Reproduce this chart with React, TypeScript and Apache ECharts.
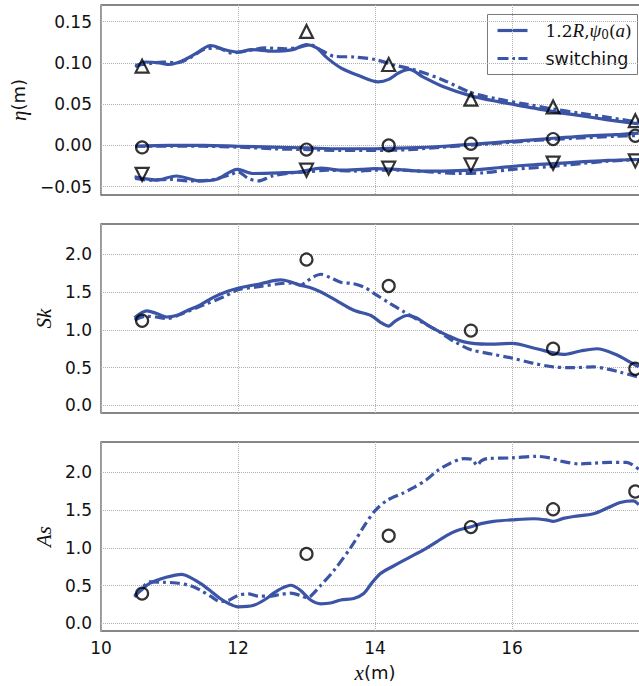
import React, { useEffect, useRef } from 'react';
import * as echarts from 'echarts';

// ---- measurement stations (markers) ----
const markerX = [10.6, 13.0, 14.2, 15.4, 16.6, 17.8];
const etaCrestObs = [0.096, 0.138, 0.098, 0.056, 0.0466, 0.030];
const etaMeanObs = [-0.0024, -0.005, 0.0, 0.002, 0.0077, 0.0117];
const etaTroughObs = [-0.035, -0.030, -0.0275, -0.0235, -0.0215, -0.0186];
const skObs = [1.12, 1.93, 1.58, 0.99, 0.75, 0.485];
const asObs = [0.395, 0.92, 1.16, 1.275, 1.51, 1.745];

// ---- model curves [x, value] ----
const etaCrestSolid = [
  [10.5, 0.095], [10.65, 0.101], [10.85, 0.1], [11.0, 0.098], [11.2, 0.103], [11.4, 0.112],
  [11.6, 0.121], [11.8, 0.116], [12.0, 0.113], [12.2, 0.116], [12.5, 0.114], [12.8, 0.116],
  [13.0, 0.122], [13.15, 0.118], [13.3, 0.106], [13.5, 0.094], [13.75, 0.085], [14.05, 0.077],
  [14.2, 0.08], [14.35, 0.088], [14.5, 0.092], [14.7, 0.083], [15.0, 0.071], [15.4, 0.06],
  [15.8, 0.053], [16.2, 0.047], [16.6, 0.041], [17.0, 0.036], [17.4, 0.031], [17.85, 0.026],
];
const etaCrestSwitch = [
  [10.5, 0.097], [10.7, 0.099], [10.9, 0.101], [11.1, 0.1], [11.3, 0.106], [11.5, 0.116],
  [11.7, 0.118], [11.9, 0.112], [12.1, 0.114], [12.4, 0.118], [12.7, 0.117], [12.9, 0.119],
  [13.05, 0.122], [13.2, 0.116], [13.4, 0.108], [13.7, 0.107], [14.0, 0.104], [14.3, 0.097],
  [14.6, 0.091], [15.0, 0.079], [15.4, 0.064], [15.8, 0.056], [16.2, 0.05], [16.6, 0.044],
  [17.0, 0.039], [17.4, 0.034], [17.85, 0.028],
];
const etaMeanSolid = [
  [10.5, -0.001], [11.0, 0.0], [11.5, 0.0], [12.0, -0.001], [12.5, -0.002], [13.0, -0.003],
  [13.5, -0.004], [14.0, -0.004], [14.5, -0.003], [15.0, -0.001], [15.5, 0.002], [16.0, 0.005],
  [16.5, 0.008], [17.0, 0.011], [17.5, 0.013], [17.85, 0.015],
];
const etaMeanSwitch = [
  [10.5, -0.001], [11.0, -0.001], [11.5, -0.001], [12.0, -0.002], [12.5, -0.004], [13.0, -0.005],
  [13.5, -0.006], [14.0, -0.006], [14.5, -0.005], [15.0, -0.002], [15.5, 0.001], [16.0, 0.004],
  [16.5, 0.007], [17.0, 0.009], [17.5, 0.011], [17.85, 0.012],
];
const etaTroughSolid = [
  [10.49, -0.038], [10.62, -0.04], [10.81, -0.042], [11.1, -0.037], [11.45, -0.043], [11.69, -0.041],
  [11.99, -0.029], [12.23, -0.034], [12.67, -0.033], [12.91, -0.032], [13.21, -0.0275], [13.5, -0.03],
  [13.8, -0.029], [14.0, -0.028], [14.3, -0.029], [14.7, -0.031], [15.0, -0.031], [15.4, -0.03],
  [15.8, -0.027], [16.2, -0.024], [16.6, -0.022], [17.0, -0.02], [17.4, -0.018], [17.85, -0.017],
];
const etaTroughSwitch = [
  [10.5, -0.04], [10.7, -0.042], [11.0, -0.041], [11.3, -0.043], [11.6, -0.042], [11.9, -0.035],
  [12.0, -0.032], [12.15, -0.04], [12.3, -0.043], [12.5, -0.037], [12.8, -0.033], [13.0, -0.032],
  [13.3, -0.03], [13.7, -0.031], [14.0, -0.03], [14.4, -0.03], [14.8, -0.032], [15.2, -0.034],
  [15.6, -0.033], [16.0, -0.029], [16.5, -0.026], [17.0, -0.022], [17.4, -0.019], [17.85, -0.017],
];
const skSolid = [
  [10.49, 1.16], [10.67, 1.25], [10.8, 1.22], [10.96, 1.17], [11.1, 1.19], [11.25, 1.25],
  [11.45, 1.33], [11.64, 1.43], [11.85, 1.51], [12.0, 1.55], [12.33, 1.61], [12.62, 1.66],
  [12.75, 1.64], [12.91, 1.59], [13.05, 1.56], [13.21, 1.5], [13.45, 1.38], [13.69, 1.26],
  [13.94, 1.19], [14.08, 1.1], [14.2, 1.05], [14.3, 1.12], [14.47, 1.19], [14.6, 1.16],
  [14.81, 1.04], [15.05, 0.93], [15.3, 0.84], [15.64, 0.81], [16.0, 0.82], [16.36, 0.75],
  [16.75, 0.675], [17.0, 0.72], [17.24, 0.75], [17.5, 0.68], [17.77, 0.55], [17.85, 0.51],
];
const skSwitch = [
  [10.49, 1.13], [10.65, 1.18], [10.8, 1.17], [10.96, 1.15], [11.2, 1.22], [11.5, 1.33],
  [11.8, 1.44], [12.0, 1.53], [12.3, 1.57], [12.6, 1.61], [12.8, 1.62], [12.91, 1.59],
  [13.0, 1.64], [13.1, 1.7], [13.21, 1.735], [13.35, 1.69], [13.5, 1.63], [13.69, 1.61],
  [13.85, 1.56], [13.99, 1.48], [14.2, 1.36], [14.42, 1.24], [14.65, 1.12], [14.91, 0.99],
  [15.15, 0.85], [15.39, 0.74], [15.7, 0.68], [15.98, 0.63], [16.3, 0.56], [16.6, 0.51],
  [16.9, 0.5], [17.19, 0.51], [17.4, 0.48], [17.58, 0.44], [17.85, 0.375],
];
const asSolid = [
  [10.49, 0.37], [10.6, 0.45], [10.71, 0.53], [10.95, 0.61], [11.18, 0.65], [11.3, 0.61],
  [11.45, 0.53], [11.6, 0.43], [11.74, 0.33], [11.87, 0.26], [12.0, 0.22], [12.23, 0.24],
  [12.4, 0.32], [12.52, 0.4], [12.65, 0.47], [12.77, 0.505], [12.91, 0.44], [13.06, 0.31],
  [13.21, 0.26], [13.35, 0.27], [13.5, 0.31], [13.69, 0.33], [13.84, 0.4], [13.95, 0.53],
  [14.08, 0.66], [14.25, 0.75], [14.42, 0.835], [14.6, 0.92], [14.76, 1.0], [15.05, 1.165],
  [15.2, 1.23], [15.39, 1.275], [15.55, 1.32], [15.73, 1.35], [16.0, 1.37], [16.32, 1.385],
  [16.5, 1.37], [16.6, 1.35], [16.75, 1.39], [16.9, 1.415], [17.19, 1.45], [17.4, 1.53],
  [17.58, 1.6], [17.77, 1.62], [17.85, 1.57],
];
const asSwitch = [
  [10.49, 0.35], [10.6, 0.47], [10.71, 0.55], [10.9, 0.545], [11.1, 0.535], [11.3, 0.5],
  [11.45, 0.44], [11.6, 0.36], [11.74, 0.29], [11.85, 0.3], [12.0, 0.37], [12.15, 0.39],
  [12.3, 0.36], [12.45, 0.36], [12.6, 0.38], [12.77, 0.4], [12.91, 0.37], [13.0, 0.34],
  [13.06, 0.36], [13.21, 0.505], [13.4, 0.7], [13.65, 1.01], [13.85, 1.3], [14.0, 1.49],
  [14.18, 1.63], [14.4, 1.72], [14.57, 1.8], [14.75, 1.9], [14.91, 2.02], [15.1, 2.12],
  [15.3, 2.18], [15.42, 2.17], [15.49, 2.09], [15.55, 2.15], [15.64, 2.18], [16.0, 2.19],
  [16.36, 2.21], [16.55, 2.19], [16.7, 2.15], [17.0, 2.11], [17.2, 2.12], [17.43, 2.13],
  [17.67, 2.13], [17.85, 2.04],
];

// ---- axis ticks ----
const xTicks = [10, 12, 14, 16, 18];
const etaTicks = [-0.05, 0.0, 0.05, 0.1, 0.15];
const skTicks = [0.0, 0.5, 1.0, 1.5, 2.0];
const asTicks = [0.0, 0.5, 1.0, 1.5, 2.0];

const LEGEND_SOLID = '1.2R,ψ0(a)';
const LEGEND_SWITCH = 'switching';

const COLOR = '#3b54a5';
const DASHDOT = [10, 4, 3, 4];
const SANS = 'DejaVu Sans';
const SERIF = 'DejaVu Serif';
const MATH = 'Liberation Serif';

export default function App() {
  const ref = useRef<HTMLDivElement>(null);
  useEffect(() => {
    if (!ref.current) return;
    const chart = echarts.init(ref.current, null, { renderer: 'svg' });

    const grids = [
      { left: 101, right: 0, top: 5, height: 190 },
      { left: 101, right: 0, top: 224, height: 189 },
      { left: 101, right: 0, top: 442, height: 189 },
    ].map((g) => ({ ...g, show: true, borderColor: '#5f5f5f', borderWidth: 1.3, backgroundColor: 'transparent' }));

    const splitLine = { show: true, lineStyle: { color: '#b0b0b0', type: 'dotted', width: 1 } };

    const xAxes = [0, 1, 2].map((i) => ({
      type: 'value',
      gridIndex: i,
      min: 10,
      max: 18,
      interval: 2,
      axisLine: { show: false },
      axisTick: { show: false, customValues: xTicks },
      splitLine,
      axisLabel: i === 2
        ? { show: true, customValues: xTicks, fontFamily: SANS, fontSize: 17, color: '#111', margin: 8, showMaxLabel: false }
        : { show: false },
      name: i === 2 ? '{i|x}(m)' : '',
      nameLocation: 'middle',
      nameGap: 31,
      nameTextStyle: {
        fontFamily: SANS, fontSize: 18, color: '#111',
        rich: { i: { fontFamily: MATH, fontStyle: 'italic', fontSize: 21, color: '#111' } },
      },
    }));

    const mkY = (i: number, min: number, max: number, ticks: number[], digits: number, name: string, gap: number) => ({
      type: 'value',
      gridIndex: i,
      min,
      max,
      axisLine: { show: false },
      axisTick: { show: false, customValues: ticks },
      splitLine,
      axisLabel: {
        customValues: ticks,
        fontFamily: SANS,
        fontSize: 17,
        color: '#111',
        margin: 9,
        formatter: (v: number) => v.toFixed(digits).replace('-', '\u2212'),
      },
      name,
      nameLocation: 'middle',
      nameGap: gap,
      nameTextStyle: {
        fontFamily: SANS, fontSize: 18, color: '#111',
        rich: { i: { fontFamily: MATH, fontStyle: 'italic', fontSize: 21, color: '#111' } },
      },
    });

    const yAxes = [
      mkY(0, -0.06, 0.17, etaTicks, 2, '{i|η}(m)', 59),
      mkY(1, -0.1, 2.4, skTicks, 1, '{i|Sk}', 37),
      mkY(2, -0.1, 2.4, asTicks, 1, '{i|As}', 37),
    ];

    const line = (name: string, data: number[][], idx: number, dashed: boolean) => ({
      type: 'line',
      name,
      xAxisIndex: idx,
      yAxisIndex: idx,
      data,
      showSymbol: false,
      symbol: 'none',
      smooth: 0.3,
      lineStyle: { color: COLOR, width: 3.2, type: dashed ? DASHDOT : 'solid', cap: 'butt' },
      z: 2,
    });

    const markers = (name: string, ys: number[], idx: number, symbol: string, size: number, rotate = 0) => ({
      type: 'scatter',
      name,
      xAxisIndex: idx,
      yAxisIndex: idx,
      data: markerX.map((x, k) => [x, ys[k]]),
      symbol,
      symbolSize: size,
      symbolRotate: rotate,
      itemStyle: { color: 'transparent', borderColor: '#000', borderWidth: 2.2 },
      z: 5,
    });

    const series = [
      line(LEGEND_SOLID, etaCrestSolid, 0, false),
      line(LEGEND_SWITCH, etaCrestSwitch, 0, true),
      line(LEGEND_SOLID, etaMeanSolid, 0, false),
      line(LEGEND_SWITCH, etaMeanSwitch, 0, true),
      line(LEGEND_SOLID, etaTroughSolid, 0, false),
      line(LEGEND_SWITCH, etaTroughSwitch, 0, true),
      markers('crest', etaCrestObs, 0, 'triangle', 13),
      markers('mean', etaMeanObs, 0, 'circle', 12),
      markers('trough', etaTroughObs, 0, 'triangle', 13, 180),
      line(LEGEND_SOLID, skSolid, 1, false),
      line(LEGEND_SWITCH, skSwitch, 1, true),
      markers('Sk obs', skObs, 1, 'circle', 12),
      line(LEGEND_SOLID, asSolid, 2, false),
      line(LEGEND_SWITCH, asSwitch, 2, true),
      markers('As obs', asObs, 2, 'circle', 12),
    ];

    const legendGraphic = {
      type: 'group',
      left: 487,
      top: 14,
      z: 100,
      children: [
        { type: 'rect', shape: { x: 0, y: 0, width: 150, height: 60 }, style: { fill: '#fff', stroke: '#7a7a7a', lineWidth: 1 } },
        { type: 'line', shape: { x1: 10, y1: 16, x2: 40, y2: 16 }, style: { stroke: COLOR, lineWidth: 3.2 } },
        { type: 'line', shape: { x1: 10, y1: 44, x2: 40, y2: 44 }, style: { stroke: COLOR, lineWidth: 3.2, lineDash: [11, 3.5, 3, 3.5] } },
        {
          type: 'text', x: 58, y: 16,
          style: {
            text: '1.2{i|R},{i|ψ}{s|0}({i|a})',
            fontFamily: SERIF, fontSize: 17, fill: '#111', verticalAlign: 'middle',
            rich: {
              i: { fontFamily: MATH, fontStyle: 'italic', fontSize: 19, fill: '#111' },
              s: { fontFamily: SERIF, fontSize: 12, fill: '#111', padding: [8, 0, 0, 0] },
            },
          },
        },
        { type: 'text', x: 58, y: 44, style: { text: LEGEND_SWITCH, fontFamily: SANS, fontSize: 17.5, fill: '#111', verticalAlign: 'middle' } },
      ],
    };

    chart.setOption({
      animation: false,
      backgroundColor: '#fff',
      grid: grids,
      xAxis: xAxes,
      yAxis: yAxes,
      series,
      graphic: [legendGraphic],
    } as any);

    return () => chart.dispose();
  }, []);

  return (
    <div style={{ position: 'fixed', left: 0, top: 0, width: 639, height: 686, overflow: 'hidden', background: '#fff' }}>
      <div ref={ref} style={{ width: 649, height: 686 }} />
    </div>
  );
}
